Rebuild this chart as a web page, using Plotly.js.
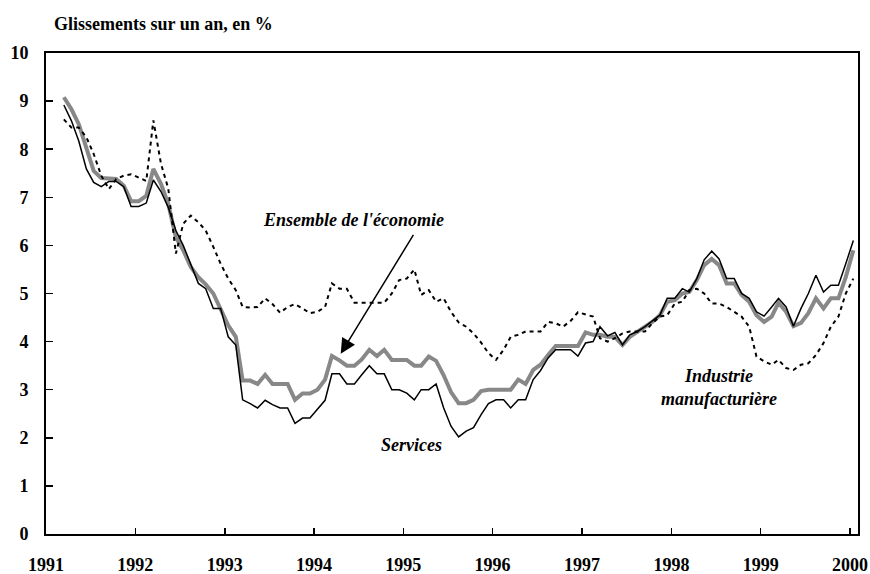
<!DOCTYPE html>
<html>
<head>
<meta charset="utf-8">
<script src="https://cdn.plot.ly/plotly-3.0.1.min.js"></script>
<style>html,body{margin:0;padding:0;background:#fff;}#chart{width:870px;height:574px;}</style>
</head>
<body>
<div id="chart"></div>
<script>
// Monthly observations, March 1991 to January 2000
var firstMonth = [1991, 3];
var ensemble = [9.08,8.83,8.52,8.03,7.55,7.40,7.38,7.38,7.24,6.92,6.92,7.03,7.59,7.28,6.86,6.17,5.90,5.55,5.34,5.19,5.00,4.69,4.34,4.10,
  3.19,3.19,3.12,3.31,3.12,3.12,3.12,2.79,2.92,2.92,3.00,3.21,3.70,3.61,3.50,3.50,3.63,3.83,3.70,3.83,3.62,3.62,3.62,3.50,3.50,3.69,3.60,3.30,
  2.95,2.72,2.72,2.79,2.97,3.00,3.00,3.00,3.00,3.21,3.12,3.41,3.52,3.72,3.91,3.91,3.91,3.91,4.19,4.14,4.14,4.10,4.10,3.93,4.10,4.21,4.31,4.41,
  4.55,4.83,4.86,5.00,5.03,5.28,5.59,5.72,5.59,5.21,5.21,4.97,4.83,4.55,4.41,4.52,4.81,4.62,4.32,4.39,4.59,4.90,4.69,4.90,4.90,5.34,5.90];
var services = [8.92,8.59,8.17,7.59,7.31,7.22,7.33,7.33,7.22,6.81,6.81,6.88,7.36,7.12,6.79,6.31,6.00,5.59,5.21,5.10,4.69,4.69,4.10,3.93,
  2.79,2.71,2.62,2.78,2.69,2.62,2.62,2.30,2.41,2.41,2.59,2.78,3.33,3.33,3.12,3.12,3.31,3.50,3.33,3.33,3.00,3.00,2.93,2.79,3.00,3.00,3.12,2.62,
  2.24,2.02,2.14,2.21,2.48,2.71,2.79,2.79,2.62,2.79,2.79,3.21,3.40,3.66,3.83,3.83,3.83,3.70,3.97,4.00,4.31,4.12,4.19,3.93,4.14,4.21,4.31,4.43,
  4.55,4.90,4.90,5.10,5.03,5.31,5.70,5.88,5.72,5.31,5.31,5.00,4.90,4.62,4.53,4.72,4.90,4.72,4.32,4.69,5.00,5.38,5.03,5.17,5.17,5.62,6.10];
var industrie = [8.62,8.45,8.45,8.25,7.90,7.45,7.17,7.38,7.45,7.48,7.41,7.34,8.60,7.70,7.18,5.83,6.45,6.62,6.48,6.31,5.97,5.62,5.31,5.07,
  4.72,4.71,4.72,4.90,4.78,4.60,4.72,4.78,4.69,4.59,4.62,4.72,5.21,5.10,5.10,4.81,4.81,4.81,4.81,4.81,5.00,5.28,5.31,5.50,4.97,5.07,4.83,4.90,
  4.62,4.40,4.31,4.17,3.98,3.76,3.62,3.83,4.10,4.14,4.21,4.21,4.21,4.41,4.38,4.31,4.43,4.61,4.57,4.52,4.07,4.00,4.07,4.17,4.21,4.21,4.21,4.38,
  4.52,4.55,4.79,4.83,5.07,5.10,5.00,4.79,4.79,4.72,4.62,4.52,4.31,3.69,3.59,3.52,3.62,3.45,3.41,3.52,3.55,3.72,3.97,4.31,4.52,5.00,5.31];
var yearTicks = ['1991','1992','1993','1994','1995','1996','1997','1998','1999','2000'];
var seriesNames = ["Ensemble de l'économie", "Services", "Industrie manufacturière"];
var unitLabel = 'Glissements sur un an, en %';

function monthDates(n) {
  var out = [];
  for (var i = 0; i < n; i++) {
    var t = firstMonth[0] * 12 + (firstMonth[1] - 1) + i;
    var y = Math.floor(t / 12), m = t % 12 + 1;
    out.push(y + '-' + (m < 10 ? '0' : '') + m + '-15');
  }
  return out;
}
var dates = monthDates(ensemble.length);
var tickVals = yearTicks.map(function (y) { return y + '-01-01'; });

var serif = 'Liberation Serif, Times New Roman, serif';
var traces = [
  {x: dates, y: ensemble, name: seriesNames[0], type: 'scatter', mode: 'lines',
   line: {color: 'rgb(136,136,136)', width: 4}},
  {x: dates, y: industrie, name: seriesNames[2], type: 'scatter', mode: 'lines',
   line: {color: '#000', width: 2, dash: '4px,4px'}},
  {x: dates, y: services, name: seriesNames[1], type: 'scatter', mode: 'lines',
   line: {color: '#000', width: 1.5}}
];

var layout = {
  width: 870, height: 574,
  margin: {l: 46, r: 12, t: 53, b: 40},
  paper_bgcolor: '#fff', plot_bgcolor: '#fff',
  showlegend: false,
  font: {family: serif, color: '#000'},
  title: {text: unitLabel, xref: 'container', x: 54 / 870, xanchor: 'left',
          yref: 'container', y: 1 - 24 / 574, yanchor: 'middle', pad: {l: 0, r: 0, t: 0, b: 0},
          font: {family: serif, size: 18, weight: 'bold', color: '#000'}},
  xaxis: {type: 'date', range: ['1991-01-01', '2000-02-03'],
          tickvals: tickVals, ticktext: yearTicks,
          ticks: 'inside', ticklen: 6, tickwidth: 1.5, tickcolor: '#000',
          showline: true, linecolor: '#000', linewidth: 2, mirror: true,
          showgrid: false, zeroline: false, ticklabelstandoff: 13,
          tickfont: {family: serif, size: 18, weight: 'bold', color: '#000'}},
  yaxis: {range: [0, 10], tick0: 0, dtick: 1,
          ticks: 'inside', ticklen: 7, tickwidth: 1.5, tickcolor: '#000',
          showline: true, linecolor: '#000', linewidth: 2, mirror: true,
          showgrid: false, zeroline: false, ticklabelstandoff: 12,
          tickfont: {family: serif, size: 18, weight: 'bold', color: '#000'}},
  annotations: [
    {text: seriesNames[0], x: '1994-06-10', y: 6.52, xref: 'x', yref: 'y', showarrow: false,
     font: {family: serif, size: 18, style: 'italic', weight: 'bold'}},
    {text: '', x: '1994-04-20', y: 3.75, xref: 'x', yref: 'y',
     ax: '1995-02-15', ay: 6.25, axref: 'x', ayref: 'y',
     showarrow: true, arrowhead: 2, arrowsize: 2, arrowwidth: 1.5, arrowcolor: '#000'},
    {text: seriesNames[1], x: '1995-02-05', y: 1.86, xref: 'x', yref: 'y', showarrow: false,
     font: {family: serif, size: 18, style: 'italic', weight: 'bold'}},
    {text: 'Industrie<br>manufacturière', x: '1998-07-15', y: 3.05, xref: 'x', yref: 'y', showarrow: false,
     font: {family: serif, size: 18, style: 'italic', weight: 'bold'}}
  ]
};

Plotly.newPlot('chart', traces, layout, {displayModeBar: false, staticPlot: true});
</script>
</body>
</html>
